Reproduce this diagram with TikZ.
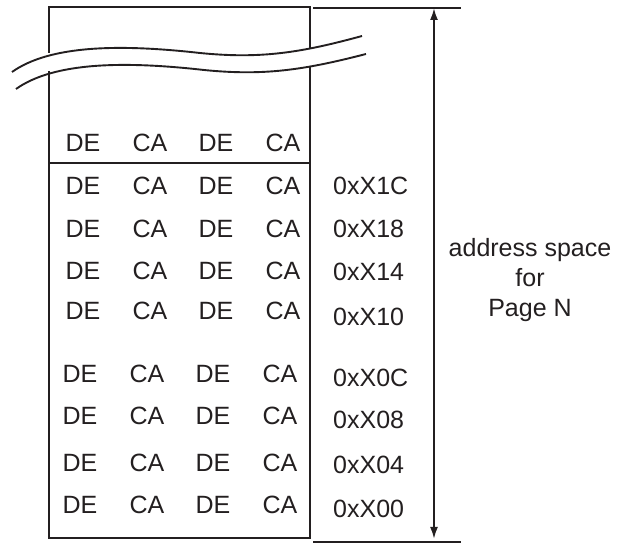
\documentclass[tikz,border=0pt]{standalone}
\usepackage{fontspec}
\setmainfont{Liberation Sans}
\usepackage{xcolor,tikz}
\usetikzlibrary{arrows.meta}
\definecolor{ink}{HTML}{231F20}
\newcommand\cellfont{\fontsize{25}{30}\selectfont}
\tikzset{edge/.style={line width=1.8pt,draw=ink},
wave/.style={line width=1.9pt,draw=ink},
cell/.style={font=\cellfont,text=ink,inner sep=0pt},
addr/.style={cell,anchor=west},
span/.style={{Latex[length=12pt,width=8pt]}-{Latex[length=12pt,width=8pt]},line width=2pt,ink}}

\begin{document}
\begin{tikzpicture}[x=1pt,y=-1pt]
\useasboundingbox (0,0) rectangle (633,545);
% memory column, broken at the top
\draw[edge] (49,53)--(49,7)--(310,7)--(310,49);
\draw[edge] (49,71)--(49,538)--(310,538)--(310,66);
\draw[edge] (49,163)--(310,163);
\draw[wave] (12,72) .. controls (50,45) and (120,44) .. (200,53) .. controls (260,59) and (300,53) .. (362,36);
\draw[wave] (16,89) .. controls (54,62) and (124,61) .. (204,70) .. controls (264,76) and (304,70) .. (366,54);
\foreach \x/\txt [count=\j] in {83/DE,150/CA,216/DE,283/CA}
\node[cell] (c0-\j) at (\x,143) {\txt};
\foreach \y/\dx [count=\i] in {186/0,229/0,271/0,311/0,374/-3,416/-3,463/-3,505/-3}{
\foreach \x/\txt [count=\j] in {83/DE,150/CA,216/DE,283/CA}
\node[cell] (c\i-\j) at (\x+\dx,\y) {\txt};}
\foreach \y/\a in {186/1C,229/18,272/14,317/10,378/0C,420/08,465/04,509/00}
\node[addr] (a\a) at (333,\y) {0xX\a};
% page extent
\coordinate (top) at (434,8);
\coordinate (bot) at (434,539);
\draw[edge] (313,8)--(461,8);
\draw[edge] (313,542)--(461,542);
\draw[span] (top)--(bot);
\node[cell,align=center,anchor=north] (page) at (530,238) {address space\\for\\Page N};
\end{tikzpicture}
\end{document}
